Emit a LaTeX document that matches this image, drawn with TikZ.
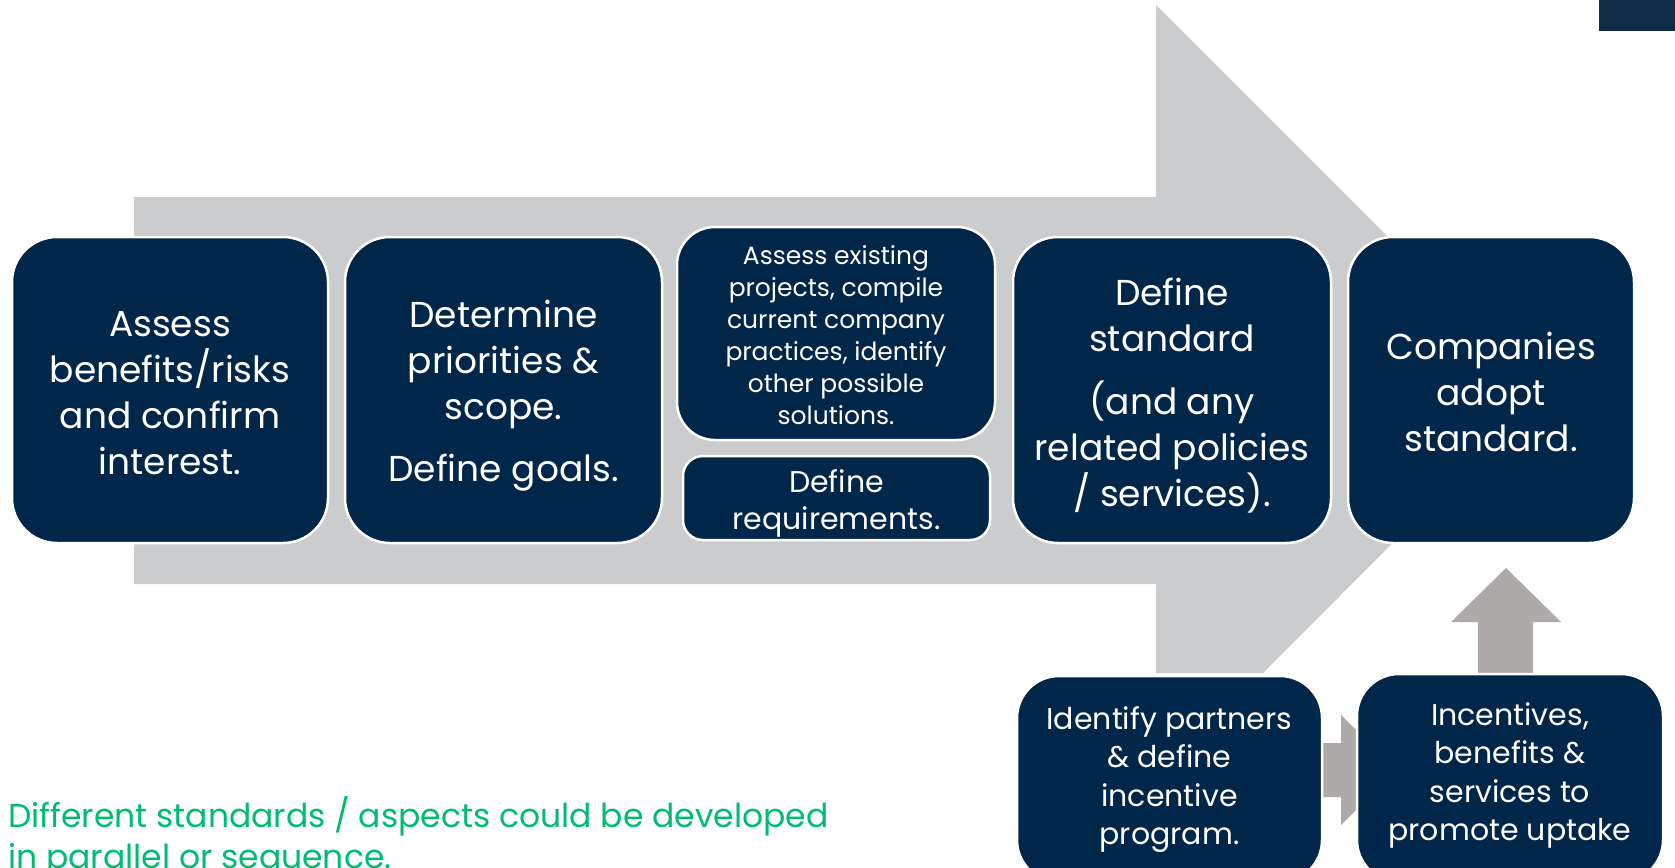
\documentclass[tikz,border=0pt]{standalone}
\usepackage{fontspec}
\setmainfont{Poppins}
\usetikzlibrary{calc}
\definecolor{navy}{RGB}{0,38,73}
\definecolor{navytop}{RGB}{16,42,74}
\definecolor{bandgray}{RGB}{203,204,206}
\definecolor{pushgray}{RGB}{174,170,170}
\definecolor{notegreen}{RGB}{0,188,112}
\tikzset{
  stage/.style={fill=navy, draw=white, line width=2.5pt, rounded corners=45pt, inner sep=0pt},
  stagetext/.style={text=white, align=center, inner sep=0pt,
    font=\fontsize{36}{46}\selectfont},
  smalltext/.style={stagetext, font=\fontsize{25}{32}\selectfont},
  lowtext/.style={stagetext, font=\fontsize{30}{38.5}\selectfont},
  push/.style={fill=pushgray},
}
\begin{document}
\begin{tikzpicture}[x=1pt,y=-1pt]
\useasboundingbox (0,0) rectangle (1675,867);
\clip (0,0) rectangle (1675,867);

% corner tab
\fill[navytop] (1599,0) rectangle (1675,31);

% broad process arrow behind the stages
\fill[bandgray] (134,197) -- (1156,197) -- (1156,5) -- (1543,392) -- (1263,673)
  -- (1156,673) -- (1156,584) -- (134,584) -- cycle;

% main stages
\node[stage, minimum width=316pt, minimum height=306pt] (b1) at (170,390) {};
\node[stagetext] (t1) at ($(b1.center)+(0,3)$)
  {Assess\\benefits/risks\\and confirm\\interest.};

\node[stage, minimum width=317pt, minimum height=306pt] (b2) at (503.5,390) {};
\node[stagetext] (t2) at ($(b2.center)+(0,6)$)
  {Determine\\priorities \&\\scope.\\[16pt]Define goals.};

\node[stage, rounded corners=38pt, minimum width=318pt, minimum height=213pt] (b3a) at (836,333.5) {};
\node[smalltext] (t3a) at ($(b3a.center)+(0,1.5)$)
  {Assess existing\\projects, compile\\current company\\practices, identify\\other possible\\solutions.};

\node[stage, rounded corners=20pt, minimum width=307pt, minimum height=84pt] (b3b) at (836.5,498) {};
\node[stagetext, font=\fontsize{30}{37}\selectfont] (t3b) at ($(b3b.center)+(0,5)$)
  {Define\\requirements.};

\node[stage, minimum width=318pt, minimum height=306pt] (b4) at (1172,390) {};
\node[stagetext] (t4) at ($(b4.center)+(0,5.5)$)
  {Define\\standard\\[17pt](and any\\related policies\\/ services).};

\node[stage, minimum width=286pt, minimum height=306pt] (b5) at (1491,390) {};
\node[stagetext] (t5) at ($(b5.center)+(0,2)$)
  {Companies\\adopt\\standard.};

% push arrows between the lower stages
\coordinate (rmid) at (1318,770);
\fill[push] ($(rmid)+(0,-27)$) -- ++(23,0) -- ++(0,-28) -- ($(rmid)+(78,0)$)
  -- ($(rmid)+(23,55)$) -- ++(0,-28) -- ($(rmid)+(0,27)$) -- cycle;
\coordinate (umid) at (1506,680);
\fill[push] ($(umid)+(-28,0)$) -- ++(0,-58) -- ++(-27,0) -- ($(umid)+(0,-112)$)
  -- ($(umid)+(55,-58)$) -- ++(-28,0) -- ($(umid)+(27,0)$) -- cycle;

% lower stages
\node[stage, rounded corners=42pt, minimum width=305pt, minimum height=206pt] (b6) at (1169.5,779) {};
\node[lowtext] (t6) at (1169.5,779.5)
  {Identify partners\\\& define\\incentive\\program.};
\node[stage, rounded corners=42pt, minimum width=306pt, minimum height=208pt] (b7) at (1510,778) {};
\node[lowtext] (t7) at (1510,775.5)
  {Incentives,\\benefits \&\\services to\\promote uptake};

% note
\node[anchor=base west, inner sep=0pt, text=notegreen, align=left,
  font=\fontsize{33}{41}\selectfont] (note) at (8,868)
  {Different standards / aspects could be developed\\in parallel or sequence.};
\end{tikzpicture}
\end{document}
